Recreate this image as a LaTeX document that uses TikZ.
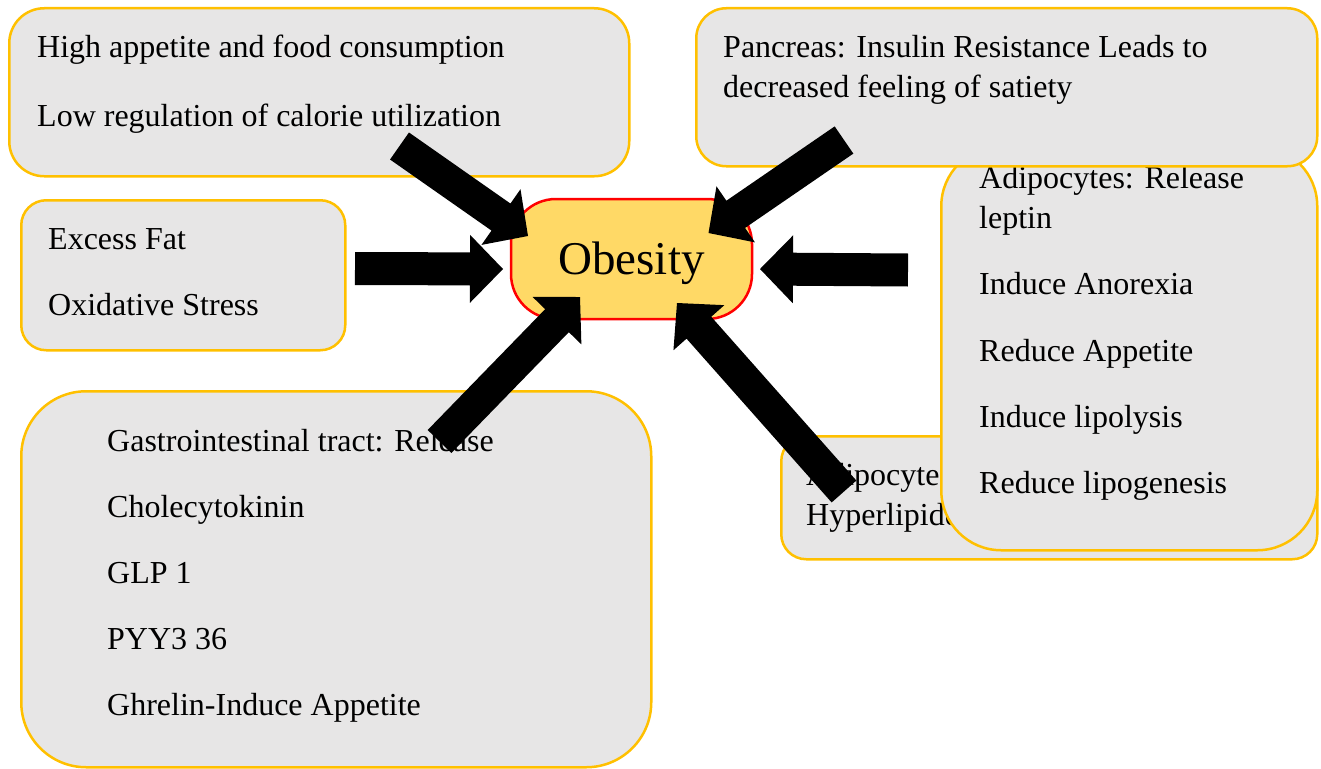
\documentclass[tikz,border=0pt]{standalone}
\usepackage{fontspec}
\setmainfont{Liberation Serif}
\usetikzlibrary{calc}
\definecolor{boxgold}{HTML}{FFC000}
\definecolor{boxgray}{HTML}{E7E6E6}
\definecolor{obfill}{HTML}{FFD966}
\newcommand\blkarrow[2]{%
  \coordinate (ab) at ($(#2)!33pt!(#1)$);
  \fill[black] ($(#1)!16.5pt!90:(#2)$) -- ($(ab)!16.5pt!90:(#2)$) -- ($(ab)!34pt!90:(#2)$) -- (#2)
    -- ($(ab)!34pt!-90:(#2)$) -- ($(ab)!16.5pt!-90:(#2)$) -- ($(#1)!16.5pt!-90:(#2)$) -- cycle;}
\tikzset{
  box/.style={draw=boxgold, line width=2.5pt, fill=boxgray, rounded corners=#1, inner sep=0pt, anchor=north west},
  txt/.style={anchor=base west, inner sep=0pt, font=\fontsize{32}{38}\selectfont},
}
\begin{document}
\begin{tikzpicture}[x=1pt,y=-1pt]
\useasboundingbox (0,0) rectangle (1321,768);
% hyperlipidemia box (bottom layer)
\node[box=25pt, minimum width=536pt, minimum height=123pt] (hyp) at (780,435) {};
\node[txt] (hyp1) at (806,485) {Adipocytes:};
\node[txt] (hyp2) at (806,525) {Hyperlipidemia};
% leptin box
\node[box=60pt, minimum width=376pt, minimum height=404pt] (lep) at (940,145) {};
\node[txt] (lep1) at (979,188) {Adipocytes: Release};
\node[txt] (lep2) at (979,228) {leptin};
\node[txt] (lep3) at (979,294) {Induce Anorexia};
\node[txt] (lep4) at (979,361) {Reduce Appetite};
\node[txt] (lep5) at (979,427) {Induce lipolysis};
\node[txt] (lep6) at (979,493) {Reduce lipogenesis};
% pancreas box
\node[box=30pt, minimum width=621pt, minimum height=158pt] (pan) at (695,7) {};
\node[txt] (pan1) at (723,58) {Pancreas: Insulin Resistance Leads to};
\node[txt] (pan2) at (723,97) {decreased feeling of satiety};
% top-left box
\node[box=35pt, minimum width=620pt, minimum height=168pt] (tl) at (8,7) {};
\node[txt] (tl1) at (37,58) {High appetite and food consumption};
\node[txt] (tl2) at (37,126) {Low regulation of calorie utilization};
% excess fat box
\node[box=25pt, minimum width=324pt, minimum height=150pt] (ex) at (20,199) {};
\node[txt] (ex1) at (48,249) {Excess Fat};
\node[txt] (ex2) at (48,315) {Oxidative Stress};
% gastro box
\node[box=65pt, minimum width=630pt, minimum height=376pt] (gi) at (20,390) {};
\node[txt] (gi1) at (107,451) {Gastrointestinal tract: Release};
\node[txt] (gi2) at (107,517) {Cholecytokinin};
\node[txt] (gi3) at (107,583) {GLP 1};
\node[txt] (gi4) at (107,649) {PYY3 36};
\node[txt] (gi5) at (107,715) {Ghrelin-Induce Appetite};
% obesity
\node[draw=red, line width=2.5pt, fill=obfill, rounded corners=45pt, minimum width=241pt, minimum height=120pt, inner sep=0pt, font=\fontsize{47}{56}\selectfont] (ob) at (631.5,259) {\raisebox{-4pt}[\height][\depth]{Obesity}};
% arrows
\coordinate (tL) at (355,268.5);  \coordinate (pL) at (503,269);
\coordinate (tR) at (908,270);    \coordinate (pR) at (760,269);
\coordinate (tTL) at (399.5,146); \coordinate (pTL) at (528,236);
\coordinate (tTR) at (844,140);   \coordinate (pTR) at (708.5,233);
\coordinate (tBL) at (439.5,441.5); \coordinate (pBL) at (580,297);
\coordinate (tBR) at (844,491.5); \coordinate (pBR) at (677,303);
\blkarrow{tL}{pL}
\blkarrow{tR}{pR}
\blkarrow{tTL}{pTL}
\blkarrow{tTR}{pTR}
\blkarrow{tBL}{pBL}
\blkarrow{tBR}{pBR}
\end{tikzpicture}
\end{document}
